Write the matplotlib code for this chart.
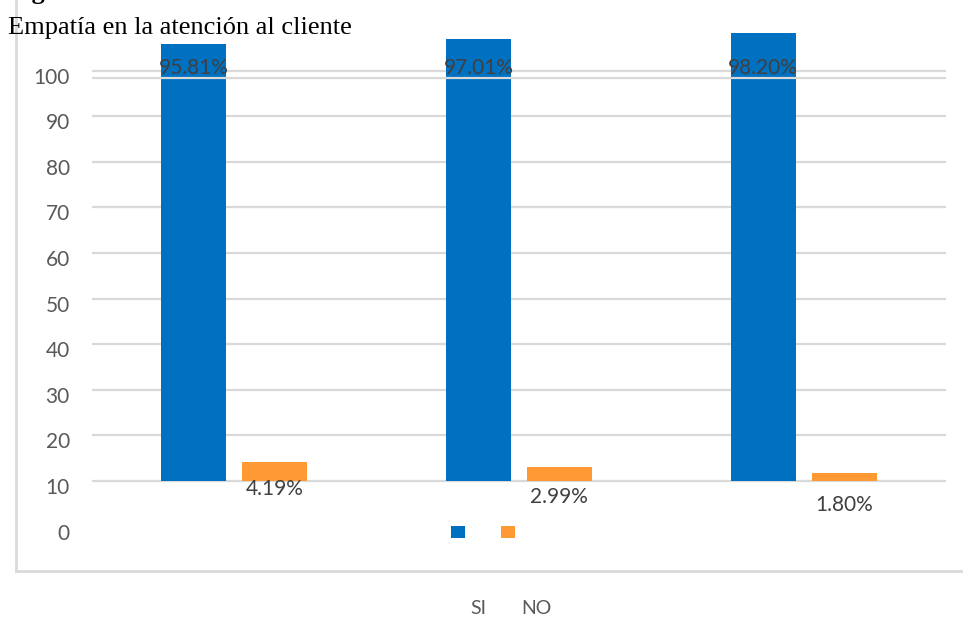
import numpy as np
import matplotlib
matplotlib.use("Agg")
import matplotlib.pyplot as plt
from matplotlib.lines import Line2D

# data
groups = ["1", "2", "3"]
si_vals = [95.81, 97.01, 98.20]
no_vals = [4.19, 2.99, 1.80]
series_names = ["SI", "NO"]
tick_labels = [0, 10, 20, 30, 40, 50, 60, 70, 80, 90, 100]

BLUE = "#0070C0"
ORANGE = "#FF9933"
GRID = "#D9D9D9"
TXT = "#595959"

W, H = 963, 619
fig = plt.figure(figsize=(W / 100, H / 100), dpi=100)

# axes in pixel terms: x 92..946, y 20..560 ; value 0 sits at y=481, 4.56 px per unit
px_per_unit = 4.56
y_top, y_bot, y_zero = 20, 560, 481
ax = fig.add_axes([92 / W, (H - y_bot) / H, 854 / W, (y_bot - y_top) / H])
ax.set_ylim(-(y_bot - y_zero) / px_per_unit, (y_zero - y_top) / px_per_unit)
ax.set_xlim(-0.5, len(groups) - 0.5)
for s in ax.spines.values():
    s.set_visible(False)

x = np.arange(len(groups))
bw = 0.228
gap = 0.056
b1 = ax.bar(x - (bw + gap) / 2, si_vals, bw, color=BLUE, zorder=2)
b2 = ax.bar(x + (bw + gap) / 2, no_vals, bw, color=ORANGE, zorder=2)

# gridlines (labels in the source are shifted one step off the lines)
for g in range(0, 100, 10):
    ax.axhline(g, color=GRID, lw=1.6, zorder=1)
ax.axhline(88.4, color=GRID, lw=1.6, zorder=3)

ax.set_xticks([])
ax.set_yticks([t - 10 - 1.1 for t in tick_labels])
ax.set_yticklabels([str(t) for t in tick_labels], family="Lato", fontsize=15, color=TXT)
ax.tick_params(axis="y", length=0, pad=16)

# data labels
for xi, v in zip(x - (bw + gap) / 2, si_vals):
    ax.text(xi, 90.6, f"{v:.2f}%", ha="center", va="center", family="Lato",
            fontsize=15, color="#404040", zorder=4)
for xi, v in zip(x + (bw + gap) / 2, no_vals):
    ax.text(xi, 1.5 * v - 8.0, f"{v:.2f}%", ha="center", va="center", family="Lato",
            fontsize=15, color="#404040", zorder=4)

# legend markers, names sit lower on their own
fig.legend(handles=[b1, b2], labels=["", ""], loc="center",
           bbox_to_anchor=(483 / W, 1 - 533 / H), frameon=False, ncol=2,
           fontsize=10, handlelength=1.0, handleheight=1.0, handletextpad=0,
           columnspacing=2.66)
fig.text(478 / W, 1 - 608 / H, series_names[0], ha="center", va="center",
         family="Lato", fontsize=14, color=TXT)
fig.text(536 / W, 1 - 608 / H, series_names[1], ha="center", va="center",
         family="Lato", fontsize=14, color=TXT)

# chart frame (left and bottom visible)
fig.add_artist(Line2D([16 / W, 16 / W], [1 - 571 / H, 1.0], color=GRID, lw=2))
fig.add_artist(Line2D([16 / W, 1.0], [1 - 571 / H, 1 - 571 / H], color=GRID, lw=2))

# caption
fig.text(8 / W, 1 - 28 / H, "Empatía en la atención al cliente", ha="left", va="center",
         family="Liberation Serif", fontsize=19, color="black")
fig.text(8 / W, 1 + 1 / H, "Figura 1", ha="left", va="baseline",
         family="Liberation Serif", fontsize=19, weight="bold", color="black")

fig.savefig("out.png", dpi=100)
